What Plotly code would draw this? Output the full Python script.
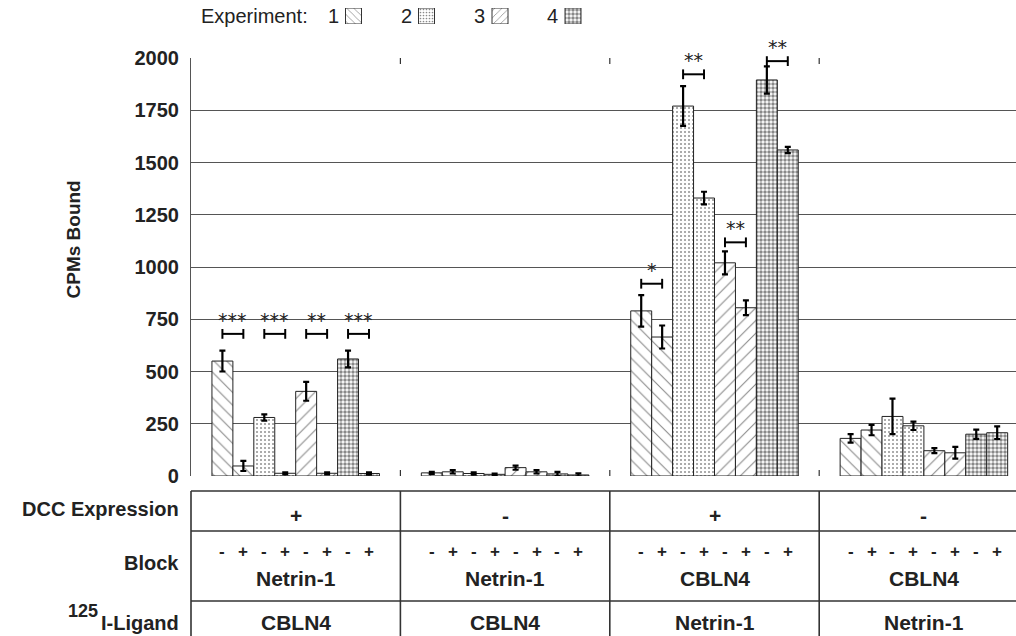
import plotly.graph_objects as go

# ---------------- data ----------------
experiments = ["1", "2", "3", "4"]
block_states = ["-", "+"]
dcc_expression = ["+", "-", "+", "-"]
block_agent = ["Netrin-1", "Netrin-1", "CBLN4", "CBLN4"]
ligand = ["CBLN4", "CBLN4", "Netrin-1", "Netrin-1"]

# one list per (experiment, block) across the 4 condition groups
exp1_minus = [550, 15, 790, 180]
exp1_minus_err = [50, 5, 75, 20]
exp1_plus = [48, 20, 665, 220]
exp1_plus_err = [24, 8, 55, 25]
exp2_minus = [280, 12, 1770, 285]
exp2_minus_err = [15, 5, 95, 85]
exp2_plus = [13, 8, 1330, 240]
exp2_plus_err = [5, 3, 30, 20]
exp3_minus = [405, 40, 1020, 121]
exp3_minus_err = [45, 10, 55, 12]
exp3_plus = [13, 20, 805, 111]
exp3_plus_err = [5, 8, 35, 28]
exp4_minus = [560, 10, 1895, 200]
exp4_minus_err = [40, 10, 65, 22]
exp4_plus = [12, 5, 1560, 207]
exp4_plus_err = [5, 8, 15, 30]

# significance brackets
sig_group = [0, 0, 0, 0, 2, 2, 2, 2]
sig_exp = [1, 2, 3, 4, 1, 2, 3, 4]
sig_label = ["***", "***", "**", "***", "*", "**", "**", "**"]
sig_level = [680, 680, 680, 680, 920, 1922, 1118, 1985]

y_ticks = [0, 250, 500, 750, 1000, 1250, 1500, 1750, 2000]

# ---------------- styles ----------------
FONT = "Liberation Sans, Arial, sans-serif"
patterns = {
    "1": dict(shape="\\", size=9, solidity=0.12, fgcolor="#111", bgcolor="white"),
    "2": dict(shape=".", size=4, solidity=0.2, fgcolor="#222", bgcolor="white"),
    "3": dict(shape="/", size=9, solidity=0.12, fgcolor="#111", bgcolor="white"),
    "4": dict(shape=".", size=4, solidity=0.6, fgcolor="#111", bgcolor="white"),
}

series = [
    ("1", "-", exp1_minus, exp1_minus_err), ("1", "+", exp1_plus, exp1_plus_err),
    ("2", "-", exp2_minus, exp2_minus_err), ("2", "+", exp2_plus, exp2_plus_err),
    ("3", "-", exp3_minus, exp3_minus_err), ("3", "+", exp3_plus, exp3_plus_err),
    ("4", "-", exp4_minus, exp4_minus_err), ("4", "+", exp4_plus, exp4_plus_err),
]

W, H = 1016, 636
ML, MB, MT = 191, 160, 0
plot_h = H - MB - MT          # 476 paper pixels
axis_top_px = 58              # y=2000 pixel
main_top = (plot_h - axis_top_px) / plot_h
group_px = 209.4
x_range = [-0.5, -0.5 + (W - ML) / group_px]
BARGAP = 0.2
n_series = len(series)
bar_w = (1 - BARGAP) / n_series


def py(px):
    """paper y from pixel y"""
    return (plot_h - px) / plot_h


def pxx(px):
    """paper x from pixel x"""
    return (px - ML) / (W - ML)


def bar_x(g, k):
    return g + (k - (n_series - 1) / 2) * bar_w


fig = go.Figure()
groups_x = list(range(len(dcc_expression)))

for k, (e, b, vals, errs) in enumerate(series):
    fig.add_trace(go.Bar(
        x=groups_x, y=vals,
        marker=dict(color="white", line=dict(color="#222", width=1), pattern=patterns[e]),
        error_y=dict(type="data", array=errs, thickness=2.2, width=3, color="black"),
        name=f"Exp {e} {b}", showlegend=False,
    ))

# significance brackets and stars
annotations = []
for g, e, lab, lvl in zip(sig_group, sig_exp, sig_label, sig_level):
    k0 = 2 * (e - 1)
    x0, x1 = bar_x(g, k0), bar_x(g, k0 + 1)
    fig.add_trace(go.Scatter(
        x=[x0, x1], y=[lvl, lvl], mode="lines+markers",
        line=dict(color="black", width=2),
        marker=dict(symbol="line-ns-open", size=7, line=dict(color="black", width=2)),
        showlegend=False, cliponaxis=False, hoverinfo="skip",
    ))
    annotations.append(dict(x=(x0 + x1) / 2, y=lvl, xref="x", yref="y", text=lab,
                            showarrow=False, yanchor="middle", yshift=14,
                            font=dict(family="DejaVu Sans, sans-serif", size=19, color="#222")))

# legend swatches (auxiliary axes)
leg_x = [353.5, 426.5, 500.0, 573.0]
fig.add_trace(go.Bar(
    x=leg_x, y=[1] * 4, width=[16] * 4, xaxis="x2", yaxis="y2",
    marker=dict(color="white", line=dict(color="#333", width=1),
                pattern=dict(shape=[patterns[e]["shape"] for e in experiments],
                             size=[5, 3, 5, 4],
                             solidity=[0.15, 0.25, 0.15, 0.6],
                             fgcolor="#111", bgcolor="white")),
    showlegend=False, hoverinfo="skip",
))
annotations.append(dict(x=199, y=0.5, xref="x2", yref="y2", text="Experiment:",
                        showarrow=False, xanchor="left", yanchor="middle",
                        font=dict(family=FONT, size=20, color="#222")))
for e, lx in zip(experiments, leg_x):
    annotations.append(dict(x=lx - 13, y=0.5, xref="x2", yref="y2", text=e,
                            showarrow=False, xanchor="right", yanchor="middle",
                            font=dict(family=FONT, size=20, color="#222")))

# y-axis title
annotations.append(dict(x=pxx(60), y=py(240), xref="paper", yref="paper",
                        text="<b>CPMs Bound</b>", textangle=-90, showarrow=False,
                        font=dict(family=FONT, size=19, color="#222")))

# table texts
TB = dict(family=FONT, size=20, color="#222")
TC = dict(family=FONT, size=21, color="#222")
left_x = pxx(181)
annotations.append(dict(x=left_x, y=py(509), xref="paper", yref="paper", text="<b>DCC Expression</b>",
                        showarrow=False, xanchor="right", yanchor="middle", font=TB))
annotations.append(dict(x=left_x, y=py(563), xref="paper", yref="paper", text="<b>Block</b>",
                        showarrow=False, xanchor="right", yanchor="middle", font=TB))
annotations.append(dict(x=left_x, y=py(623), xref="paper", yref="paper",
                        text="<b>I-Ligand</b>",
                        showarrow=False, xanchor="right", yanchor="middle", font=TB))
annotations.append(dict(x=pxx(100), y=py(611), xref="paper", yref="paper",
                        text="<b>125</b>",
                        showarrow=False, xanchor="right", yanchor="middle",
                        font=dict(family=FONT, size=18, color="#222")))
for g in groups_x:
    annotations.append(dict(x=g, y=py(515), xref="x", yref="paper", text=f"<b>{dcc_expression[g]}</b>",
                            showarrow=False, yanchor="middle", font=TC))
    annotations.append(dict(x=g, y=py(578), xref="x", yref="paper", text=f"<b>{block_agent[g]}</b>",
                            showarrow=False, yanchor="middle", font=TC))
    annotations.append(dict(x=g, y=py(622), xref="x", yref="paper", text=f"<b>{ligand[g]}</b>",
                            showarrow=False, yanchor="middle", font=TC))
    for k, (e, b, _, _) in enumerate(series):
        annotations.append(dict(x=bar_x(g, k), y=py(551), xref="x", yref="paper", text=f"<b>{b}</b>",
                                showarrow=False, yanchor="middle",
                                font=dict(family=FONT, size=17, color="#222")))

# table lines + group boundary ticks
shapes = []
LC = "#333"
for ypx in [491, 531, 601]:
    shapes.append(dict(type="line", xref="paper", yref="paper", x0=0, x1=1.02,
                       y0=py(ypx), y1=py(ypx), line=dict(color=LC, width=1.6)))
shapes.append(dict(type="line", xref="paper", yref="paper", x0=0, x1=0,
                   y0=py(491), y1=py(640), line=dict(color=LC, width=1.6)))
for gb in [0.5, 1.5, 2.5]:
    shapes.append(dict(type="line", xref="x", yref="paper", x0=gb, x1=gb,
                       y0=py(491), y1=py(640), line=dict(color=LC, width=1.6)))
    shapes.append(dict(type="line", xref="x", yref="paper", x0=gb, x1=gb,
                       y0=py(476), y1=py(470), line=dict(color=LC, width=1.2)))
    shapes.append(dict(type="line", xref="x", yref="paper", x0=gb, x1=gb,
                       y0=py(58), y1=py(64), line=dict(color=LC, width=1.2)))

fig.update_layout(
    width=W, height=H,
    margin=dict(l=ML, r=0, t=MT, b=MB, pad=0, autoexpand=False),
    paper_bgcolor="white", plot_bgcolor="white",
    barmode="group", bargap=BARGAP, bargroupgap=0,
    font=dict(family=FONT, color="#222"),
    xaxis=dict(domain=[0, 1], range=x_range, showticklabels=False, ticks="",
               showgrid=False, zeroline=False, showline=False, fixedrange=True),
    yaxis=dict(domain=[0, main_top], range=[0, 2000], tickvals=y_ticks,
               ticktext=[f"<b>{v}</b>" for v in y_ticks],
               tickfont=dict(family=FONT, size=20, color="#222"),
               showgrid=True, gridcolor="#555", gridwidth=1, zeroline=False,
               showline=True, linecolor="#555", linewidth=1.2, ticks="",
               ticklabelstandoff=7),
    xaxis2=dict(domain=[0, 1], range=[ML, W], anchor="y2", visible=False),
    yaxis2=dict(domain=[py(24), py(8)], range=[0, 1], anchor="x2", visible=False),
    annotations=annotations,
    shapes=shapes,
)

fig.write_html("out.html")
